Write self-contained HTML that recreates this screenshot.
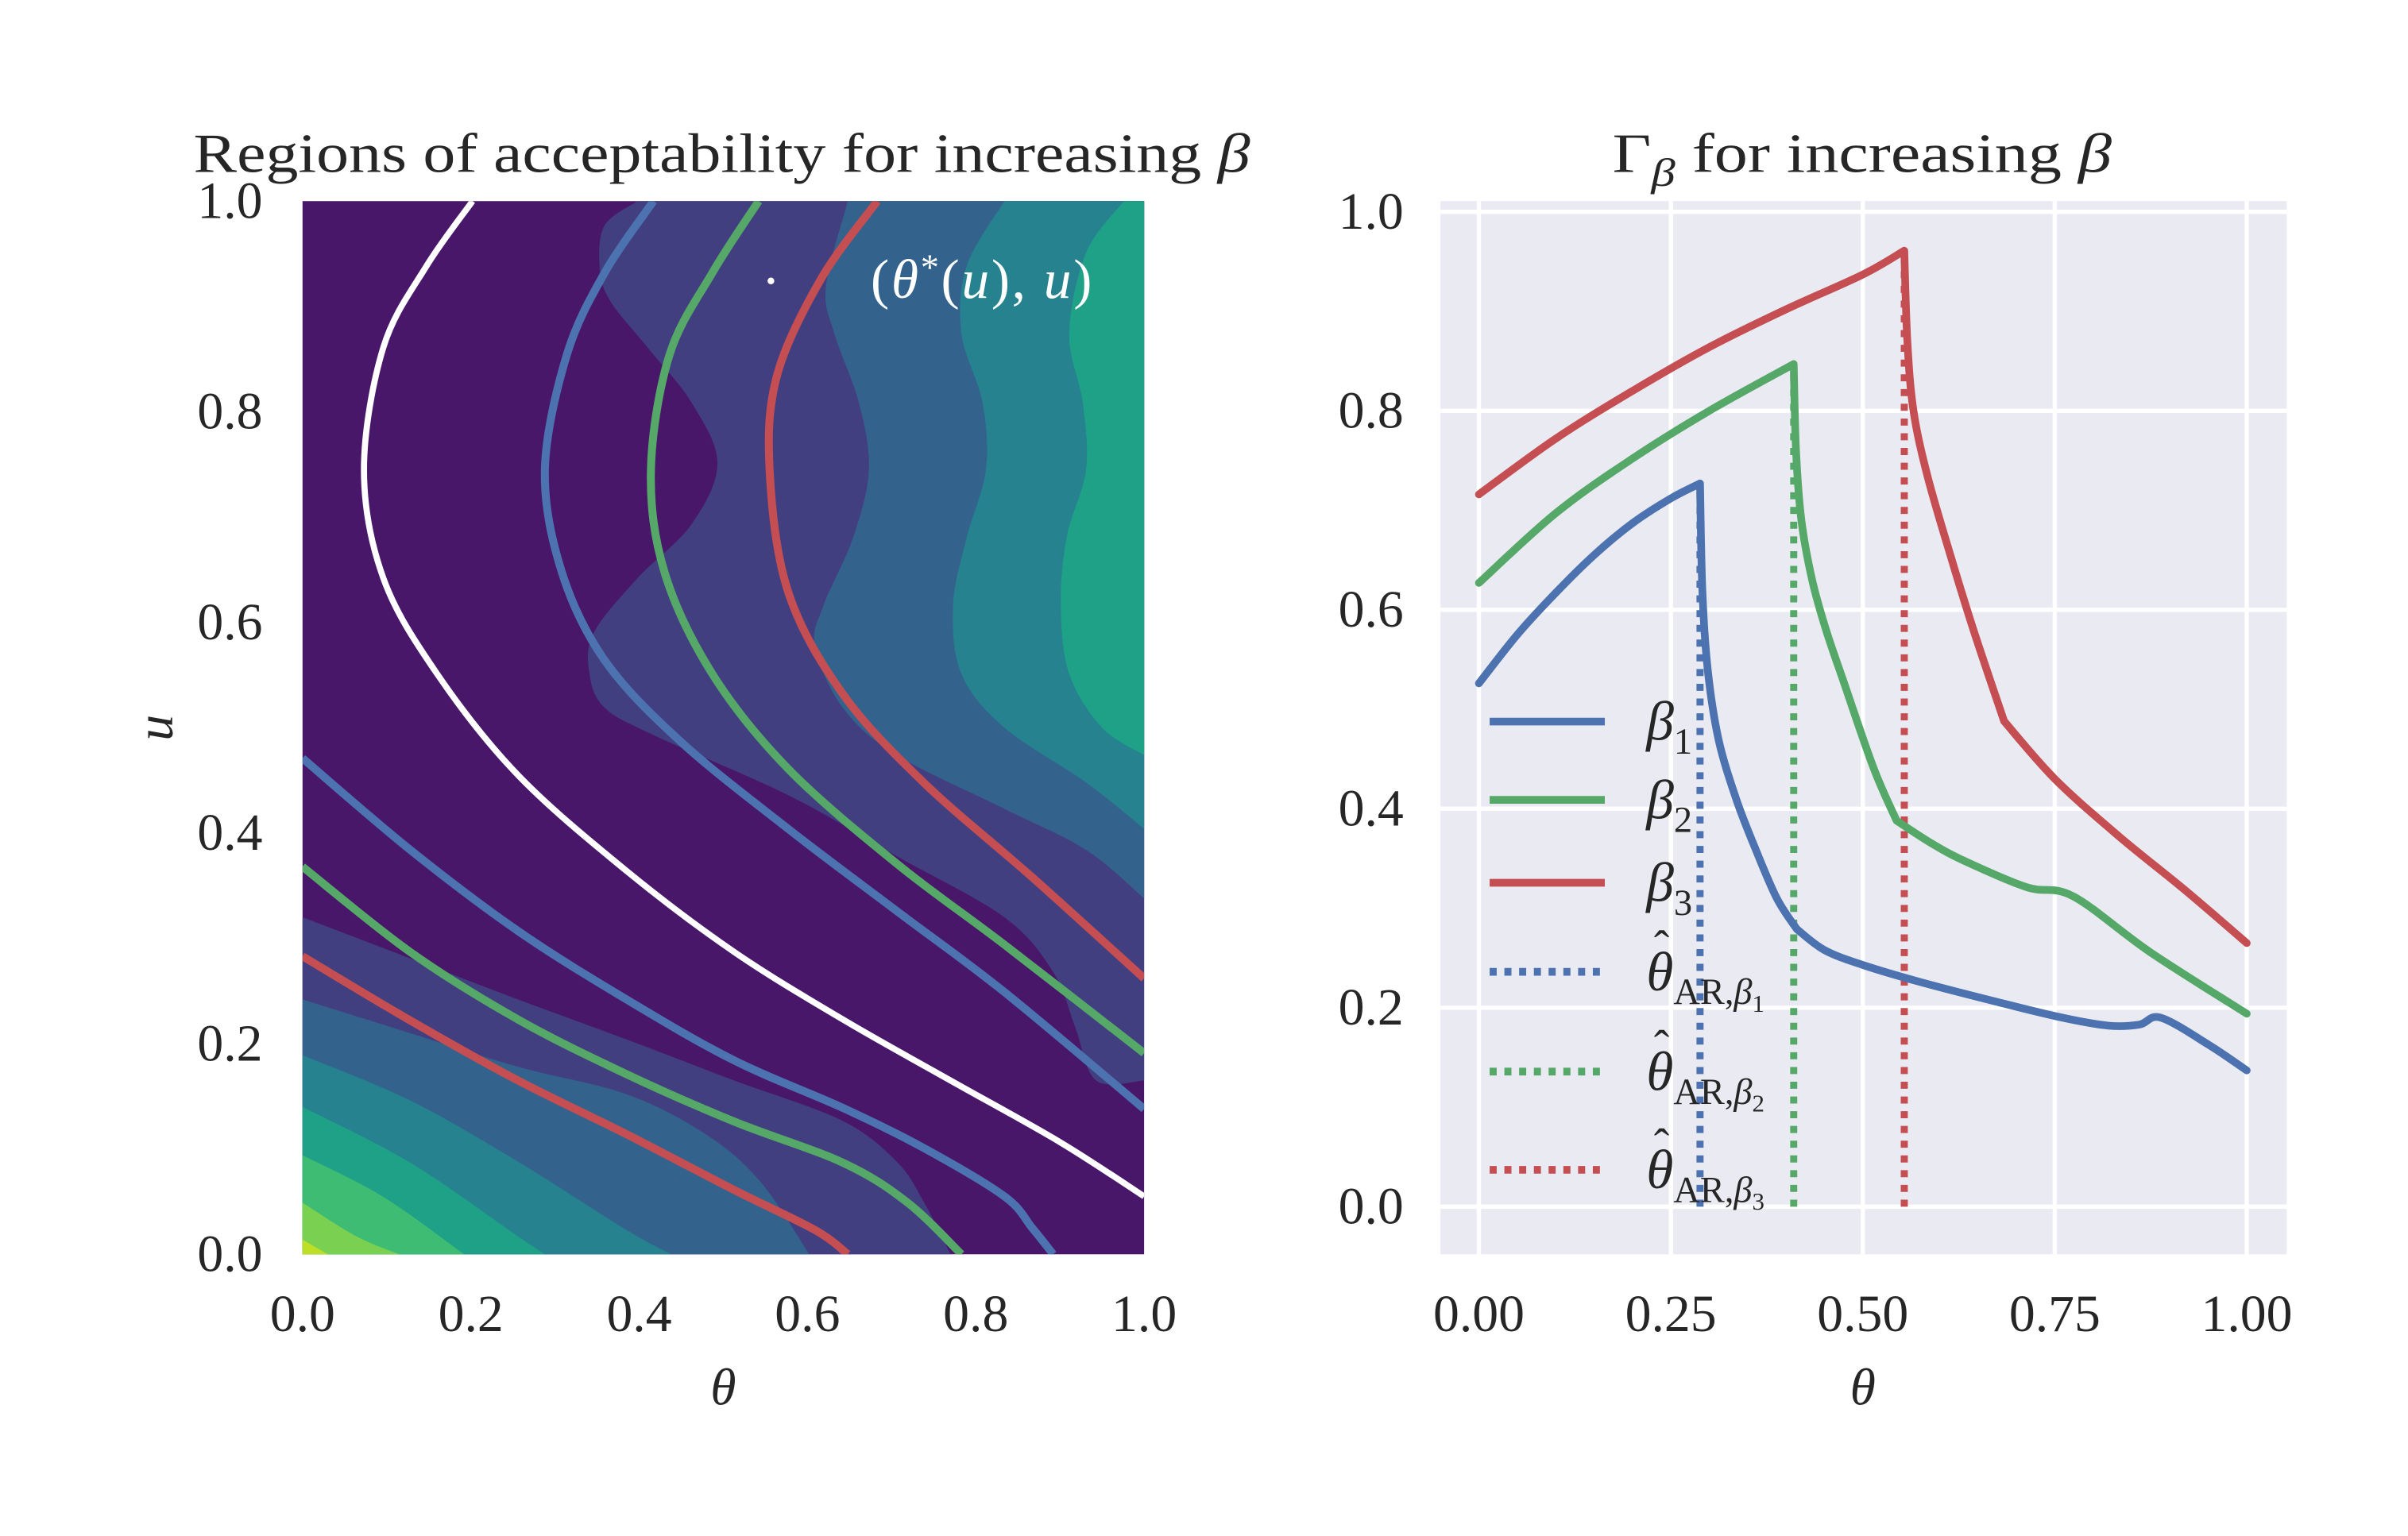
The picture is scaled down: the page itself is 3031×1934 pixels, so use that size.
<!DOCTYPE html>
<html><head><meta charset="utf-8"><style>
html,body{margin:0;padding:0;background:#fff}
svg{display:block}
text{font-family:"Liberation Serif","DejaVu Serif",serif;fill:#262626}
</style></head><body>
<svg id="fig" width="3031" height="1934" viewBox="0 0 1568 1000.5" preserveAspectRatio="none" xmlns="http://www.w3.org/2000/svg">
<defs>
<clipPath id="clipL"><rect x="197" y="131" width="548" height="686"/></clipPath>
<clipPath id="clipR"><rect x="938" y="131" width="551" height="686"/></clipPath>
</defs>
<g id="left">
<rect x="197" y="131" width="548" height="686" fill="#481769"/>
<g id="leftFills" clip-path="url(#clipL)"></g>
<g id="leftLines" clip-path="url(#clipL)"></g>
<circle cx="502" cy="183" r="2.2" fill="#fff"/>
<text x="567" y="194" font-size="36" textLength="144" style="fill:#fff"><tspan>(</tspan><tspan font-style="italic">θ</tspan><tspan font-size="24" dy="-12">*</tspan><tspan dy="12">(</tspan><tspan font-style="italic">u</tspan><tspan>), </tspan><tspan font-style="italic">u</tspan><tspan>)</tspan></text>
<text x="126" y="112" font-size="36" textLength="688" lengthAdjust="spacingAndGlyphs">Regions of acceptability for increasing <tspan font-style="italic">β</tspan></text>
<g id="leftTicks"></g>
<text x="471" y="915" font-size="34" font-style="italic" text-anchor="middle">θ</text>
<text x="112" y="474" font-size="34" font-style="italic" text-anchor="middle" transform="rotate(-90 112 474)">u</text>
</g>
<g id="right">
<rect x="938" y="131" width="551" height="686" fill="#eaeaf2"/>
<g id="rightGrid"></g>
<g id="rightLines" clip-path="url(#clipR)"></g>
<text x="1050" y="112" font-size="36" textLength="325" lengthAdjust="spacingAndGlyphs">Γ<tspan font-style="italic" font-size="26" dy="9">β</tspan><tspan dy="-9"> for increasing </tspan><tspan font-style="italic">β</tspan></text>
<text x="1213" y="915" font-size="34" font-style="italic" text-anchor="middle">θ</text>
<g id="legend"></g>
</g>
</svg>
<script>
// ---------- LEFT: contour chart data (theta, u) ----------
const bandColors = ["#423f80","#33638d","#25828e","#1fa187","#3fbc73","#7ad151","#bddf26","#fde725"];
const bandUpperA = [[0.398,1.0],[0.359,0.977],[0.353,0.938],[0.365,0.906],[0.410,0.861],[0.462,0.809],[0.493,0.751],[0.462,0.693],[0.398,0.642],[0.346,0.590],[0.341,0.551],[0.359,0.519],[0.417,0.493],[0.577,0.436],[0.706,0.378],[0.834,0.320],[0.892,0.268],[0.918,0.216],[0.943,0.165],[1.0,0.165]];
const bandUpperB = [[0.648,1.0],[0.622,0.919],[0.632,0.874],[0.661,0.809],[0.673,0.745],[0.654,0.680],[0.619,0.616],[0.609,0.577],[0.642,0.519],[0.706,0.474],[0.834,0.423],[0.931,0.384],[1.0,0.338]];
const bandUpperC = [[0.834,1.0],[0.789,0.938],[0.783,0.874],[0.808,0.809],[0.812,0.745],[0.789,0.680],[0.773,0.616],[0.783,0.551],[0.834,0.500],[0.931,0.448],[1.0,0.404]];
const bandUpperD = [[0.976,1.0],[0.931,0.951],[0.911,0.874],[0.927,0.809],[0.931,0.745],[0.908,0.681],[0.901,0.616],[0.911,0.551],[0.950,0.500],[1.0,0.474]];
const bandLowerE = [[0,0.32],[0.128,0.281],[0.256,0.242],[0.385,0.204],[0.513,0.165],[0.641,0.127],[0.706,0.088],[0.738,0.050],[0.770,0]];
const bandLowerF = [[0,0.242],[0.128,0.210],[0.256,0.178],[0.385,0.152],[0.481,0.113],[0.545,0.068],[0.602,0]];
const bandLowerG = [[0,0.189],[0.128,0.146],[0.256,0.088],[0.385,0.023],[0.438,0]];
const bandLowerH = [[0,0.140],[0.128,0.087],[0.256,0.017],[0.288,0]];
const bandLowerI = [[0,0.094],[0.095,0.055],[0.192,0]];
const bandLowerJ = [[0,0.049],[0.064,0.017],[0.115,0]];
const bandLowerK = [[0,0.014],[0.03,0]];
const curveWhite = [[0.202,1.0],[0.147,0.938],[0.096,0.861],[0.073,0.745],[0.096,0.642],[0.160,0.551],[0.256,0.455],[0.385,0.364],[0.513,0.287],[0.642,0.223],[0.770,0.165],[0.899,0.107],[1.0,0.055]];
const curveBlueUpper = [[0.417,1.0],[0.359,0.932],[0.314,0.854],[0.288,0.745],[0.308,0.648],[0.359,0.564],[0.449,0.487],[0.577,0.404],[0.706,0.326],[0.834,0.249],[1.0,0.138]];
const curveGreenUpper = [[0.542,1.0],[0.487,0.932],[0.436,0.854],[0.414,0.745],[0.430,0.648],[0.487,0.551],[0.577,0.461],[0.706,0.371],[0.834,0.294],[1.0,0.191]];
const curveRedUpper = [[0.683,1.0],[0.616,0.926],[0.564,0.835],[0.555,0.745],[0.577,0.629],[0.642,0.532],[0.738,0.448],[0.867,0.358],[1.0,0.262]];
const curveBlueLower = [[0,0.471],[0.128,0.384],[0.256,0.307],[0.385,0.242],[0.513,0.184],[0.642,0.139],[0.738,0.101],[0.834,0.055],[0.867,0.025],[0.892,0]];
const curveGreenLower = [[0,0.368],[0.128,0.287],[0.256,0.223],[0.385,0.171],[0.513,0.126],[0.642,0.087],[0.719,0.049],[0.783,0]];
const curveRedLower = [[0,0.283],[0.128,0.222],[0.256,0.165],[0.385,0.114],[0.513,0.061],[0.609,0.023],[0.648,0]];
const leftTickLabels = ["0.0","0.2","0.4","0.6","0.8","1.0"];
const leftTickValues = [0,0.2,0.4,0.6,0.8,1.0];

// ---------- RIGHT: Gamma_beta chart data (segments split at peak and kink) ----------
const gammaBlueRise = [[0,0.526],[0.05,0.575],[0.1,0.617],[0.15,0.655],[0.2,0.687],[0.25,0.712],[0.288,0.727]];
const gammaBlueDrop = [[0.288,0.727],[0.291,0.62],[0.298,0.54],[0.312,0.47],[0.335,0.41],[0.36,0.36],[0.388,0.31],[0.414,0.279]];
const gammaBlueTail = [[0.414,0.279],[0.45,0.258],[0.5,0.243],[0.574,0.226],[0.674,0.206],[0.76,0.19],[0.82,0.182],[0.86,0.183],[0.888,0.19],[0.95,0.163],[1.0,0.137]];
const gammaGreenRise = [[0,0.627],[0.1,0.697],[0.2,0.752],[0.3,0.80],[0.41,0.847]];
const gammaGreenDrop = [[0.41,0.847],[0.413,0.76],[0.42,0.69],[0.434,0.63],[0.452,0.58],[0.474,0.53],[0.514,0.441],[0.544,0.388]];
const gammaGreenTail = [[0.544,0.388],[0.59,0.365],[0.634,0.347],[0.714,0.321],[0.774,0.312],[0.874,0.256],[1.0,0.194]];
const gammaRedRise = [[0,0.716],[0.1,0.772],[0.2,0.82],[0.3,0.864],[0.4,0.902],[0.5,0.937],[0.554,0.961]];
const gammaRedDrop = [[0.554,0.961],[0.558,0.87],[0.566,0.80],[0.584,0.735],[0.614,0.655],[0.644,0.58],[0.684,0.488]];
const gammaRedTail = [[0.684,0.488],[0.75,0.43],[0.834,0.372],[0.92,0.318],[1.0,0.265]];
const thetaHatAR = [0.288,0.41,0.554];
const thetaHatTop = [0.727,0.847,0.961];
const rightXTickValues = [0,0.25,0.5,0.75,1.0];
const rightXTickLabels = ["0.00","0.25","0.50","0.75","1.00"];
const rightYTickValues = [0,0.2,0.4,0.6,0.8,1.0];
const rightYTickLabels = ["0.0","0.2","0.4","0.6","0.8","1.0"];

const NS="http://www.w3.org/2000/svg";
const LX=t=>197+548*t, LY=u=>817-686*u;
const RX=t=>963+500*t, RY=v=>786-648*v;
function mk(tag,attrs,parent){const e=document.createElementNS(NS,tag);for(const k in attrs)e.setAttribute(k,attrs[k]);parent.appendChild(e);return e;}
function smooth(pts,noMove){
  let d=(noMove?"L":"M")+pts[0][0].toFixed(2)+","+pts[0][1].toFixed(2);
  for(let i=0;i<pts.length-1;i++){
    const p0=pts[i-1]||pts[i],p1=pts[i],p2=pts[i+1],p3=pts[i+2]||p2;
    const c1=[p1[0]+(p2[0]-p0[0])/6,p1[1]+(p2[1]-p0[1])/6];
    const c2=[p2[0]-(p3[0]-p1[0])/6,p2[1]-(p3[1]-p1[1])/6];
    d+=" C"+c1.map(v=>v.toFixed(2))+" "+c2.map(v=>v.toFixed(2))+" "+p2.map(v=>v.toFixed(2));
  }
  return d;
}
const toL=arr=>arr.map(p=>[LX(p[0]),LY(p[1])]);
const toR=arr=>arr.map(p=>[RX(p[0]),RY(p[1])]);
const fills=document.getElementById('leftFills');
[[bandUpperA,0],[bandUpperB,1],[bandUpperC,2],[bandUpperD,3]].forEach(([b,ci],i)=>{
  const pts=toL(b);
  const d=smooth(pts)+` L${LX(1.02)},${pts[pts.length-1][1]} L${LX(1.02)},${LY(1.02)} L${pts[0][0]},${LY(1.02)} Z`;
  const p=mk('path',{d:d,fill:bandColors[ci]},fills);
  
  
});
[bandLowerE,bandLowerF,bandLowerG,bandLowerH,bandLowerI,bandLowerJ,bandLowerK].forEach((b,i)=>{
  const pts=toL(b);
  const d=smooth(pts)+` L${pts[pts.length-1][0]},${LY(-0.02)} L${LX(-0.02)},${LY(-0.02)} L${LX(-0.02)},${pts[0][1]} Z`;
  const p=mk('path',{d:d,fill:bandColors[i]},fills);
  
  
});
const lines=document.getElementById('leftLines');
[[curveWhite,'#ffffff',4,'theta-star-curve'],[curveBlueUpper,'#4c72b0',5.2,'beta1-upper-boundary'],[curveGreenUpper,'#55a868',5.2,'beta2-upper-boundary'],[curveRedUpper,'#c44e52',5.2,'beta3-upper-boundary'],[curveBlueLower,'#4c72b0',5.2,'beta1-lower-boundary'],[curveGreenLower,'#55a868',5.2,'beta2-lower-boundary'],[curveRedLower,'#c44e52',5.2,'beta3-lower-boundary']].forEach(([c,col,w,n])=>{
  const p=mk('path',{d:smooth(toL(c)),fill:'none',stroke:col,'stroke-width':w},lines);
  
  
});
const lt=document.getElementById('leftTicks');
leftTickValues.forEach((v,i)=>{
  const ty=mk('text',{x:171,y:LY(v)+11,'font-size':34,'text-anchor':'end'},lt);ty.textContent=leftTickLabels[i];
  
  
  const tx=mk('text',{x:LX(v),y:867,'font-size':34,'text-anchor':'middle'},lt);tx.textContent=leftTickLabels[i];
  
  
});
const rg=document.getElementById('rightGrid');
rightXTickValues.forEach((v,i)=>{
  const l=mk('line',{x1:RX(v),x2:RX(v),y1:131,y2:817,stroke:'#fff','stroke-width':2.8},rg);
  
  
  const t=mk('text',{x:RX(v),y:867,'font-size':34,'text-anchor':'middle'},rg);t.textContent=rightXTickLabels[i];
  
  
});
rightYTickValues.forEach((v,i)=>{
  const l=mk('line',{x1:938,x2:1489,y1:RY(v),y2:RY(v),stroke:'#fff','stroke-width':2.8},rg);
  
  
  const t=mk('text',{x:914,y:RY(v)+11,'font-size':34,'text-anchor':'end'},rg);t.textContent=rightYTickLabels[i];
  
  
});
const rl=document.getElementById('rightLines');
const cols=['#4c72b0','#55a868','#c44e52'];
thetaHatAR.forEach((t,i)=>{
  const l=mk('line',{x1:RX(t),x2:RX(t),y1:RY(0),y2:RY(thetaHatTop[i]),stroke:cols[i],'stroke-width':4.6,'stroke-dasharray':'4.6 5'},rl);
  
  
});
[[gammaBlueRise,gammaBlueDrop,gammaBlueTail],[gammaGreenRise,gammaGreenDrop,gammaGreenTail],[gammaRedRise,gammaRedDrop,gammaRedTail]].forEach((segs,i)=>{
  const d=smooth(toR(segs[0]))+' '+smooth(toR(segs[1]),true)+' '+smooth(toR(segs[2]),true);
  const p=mk('path',{d:d,fill:'none',stroke:cols[i],'stroke-width':5,'stroke-linejoin':'round','stroke-linecap':'round'},rl);
  
  
});
const lg=document.getElementById('legend');
const legY=[470,521,575,633,698,762];
legY.forEach((y,i)=>{
  const c=cols[i%3], dotted=i>=3;
  const l=mk('line',{x1:970,x2:1045,y1:y,y2:y,stroke:c,'stroke-width':5},lg);
  if(dotted) l.setAttribute('stroke-dasharray','4.6 5');
  
  
  const t=mk('text',{x:1072,y:y+12,'font-size':36},lg);
  
  
  if(!dotted){
    t.innerHTML='<tspan font-style="italic">β</tspan><tspan font-size="24" dy="9">'+(i+1)+'</tspan>';
  } else {
    t.innerHTML='<tspan font-style="italic">θ</tspan><tspan font-size="24" dy="9">AR,</tspan><tspan font-size="24" font-style="italic">β</tspan><tspan font-size="16" dy="5">'+(i-2)+'</tspan>';
    const h=mk('text',{x:1077,y:y-6,'font-size':30},lg);
    h.textContent='ˆ';
    
    
  }
});
</script>
</body></html>
